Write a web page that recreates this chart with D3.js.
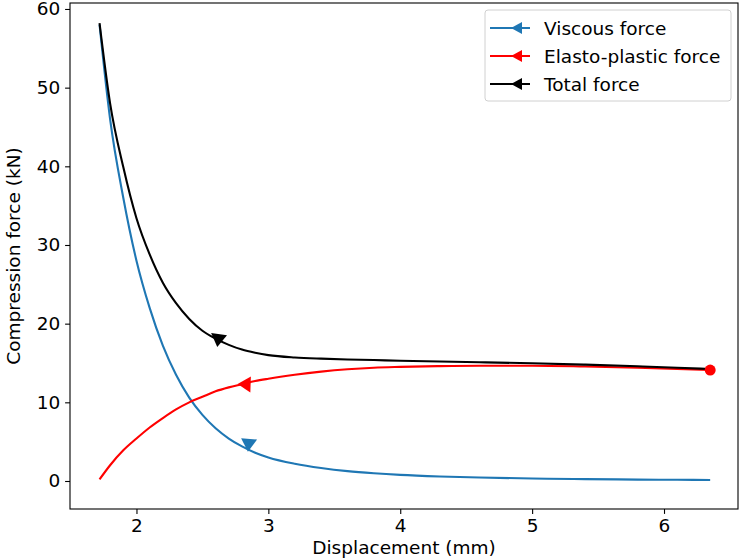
<!DOCTYPE html>
<html><head><meta charset="utf-8">
<script src="https://cdn.jsdelivr.net/npm/d3@7"></script>
<style>body{margin:0;background:#fff}svg{display:block;font-family:"DejaVu Sans",sans-serif}</style>
</head><body><svg id="c" width="742" height="559"></svg>
<script>
const displacement = [1.72,1.8,1.9,2.0,2.1,2.2,2.3,2.4,2.5,2.6,2.7,2.8,2.9,3.0,3.2,3.4,3.6,3.8,4.0,4.3,4.6,5.0,5.4,5.8,6.1,6.35];
const viscous = [58,46,36,28,22,17.2,13.5,10.6,8.4,6.7,5.4,4.4,3.6,3.0,2.2,1.65,1.25,0.98,0.78,0.58,0.44,0.32,0.24,0.18,0.15,0.13];
const elastic = [0.2,2.0,3.9,5.4,6.8,8.0,9.1,10.0,10.7,11.4,11.9,12.3,12.7,13.0,13.5,13.9,14.2,14.4,14.5,14.6,14.65,14.65,14.55,14.4,14.25,14.1];
const total = [58.2,48.0,39.9,33.4,28.8,25.2,22.6,20.6,19.1,18.1,17.3,16.7,16.3,16.0,15.7,15.55,15.45,15.38,15.28,15.18,15.09,14.97,14.79,14.58,14.4,14.23];
const seriesNames = ["Viscous force","Elasto-plastic force","Total force"];
const seriesColors = ["#1f77b4","#ff0000","#000000"];
// arrow heads: [x, y, direction deg (screen)]
const arrows = [[2.85,4.6,95],[2.82,12.3,182],[2.62,17.9,98]];
const xTicks = [2,3,4,5,6];
const yTicks = [0,10,20,30,40,50,60];

const FS = 18.5;
const svg = d3.select("#c");
const L=70,R=738,T=3,B=509;
const x = d3.scaleLinear().domain([1.496,6.561]).range([L,R]);
const y = d3.scaleLinear().domain([-3.56,60.76]).range([B,T]);

const g = svg.append("g");
const line = d3.line().x(d=>x(d[0])).y(d=>y(d[1])).curve(d3.curveMonotoneX);
const data = [viscous, elastic, total];
data.forEach((s,i)=>{
  g.append("path").datum(displacement.map((d,j)=>[d,s[j]]))
   .attr("d",line).attr("fill","none").attr("stroke",seriesColors[i]).attr("stroke-width",2.1);
});
arrows.forEach((a,i)=>{
  g.append("path").attr("d","M-7,0 L6,-8 L6,8 Z")
   .attr("transform",`translate(${x(a[0])},${y(a[1])}) rotate(${a[2]-180})`)
   .attr("fill",seriesColors[i]);
});
g.append("circle").attr("cx",x(displacement[displacement.length-1])).attr("cy",y(elastic[elastic.length-1]))
 .attr("r",5.5).attr("fill","#ff0000");

const xa = svg.append("g").attr("transform",`translate(0,${B})`).call(d3.axisBottom(x).tickValues(xTicks).tickFormat(d3.format("d")).tickSize(4.9).tickPadding(4.9));
const ya = svg.append("g").attr("transform",`translate(${L},0)`).call(d3.axisLeft(y).tickValues(yTicks).tickFormat(d3.format("d")).tickSize(4.9).tickPadding(4.9));
[xa,ya].forEach(a=>{a.select(".domain").remove();a.selectAll("text").attr("font-size",FS).attr("fill","#000").attr("font-family","DejaVu Sans");a.selectAll("line").attr("stroke","#000").attr("stroke-width",1.1);});
svg.append("rect").attr("x",L).attr("y",T).attr("width",R-L).attr("height",B-T).attr("fill","none").attr("stroke","#000").attr("stroke-width",1.1);

svg.append("text").attr("x",(L+R)/2).attr("y",554).attr("text-anchor","middle").attr("font-size",FS).text("Displacement (mm)");
svg.append("text").attr("transform",`translate(20,${(T+B)/2}) rotate(-90)`).attr("text-anchor","middle").attr("font-size",FS).text("Compression force (kN)");

const lg = svg.append("g");
lg.append("rect").attr("x",485).attr("y",10).attr("width",246).attr("height",91).attr("rx",3).attr("fill","#fff").attr("fill-opacity",0.8).attr("stroke","#d0d0d0").attr("stroke-width",1);
seriesNames.forEach((n,i)=>{
  const yy = 28 + i*28;
  lg.append("line").attr("x1",490).attr("x2",530).attr("y1",yy).attr("y2",yy).attr("stroke",seriesColors[i]).attr("stroke-width",2.1);
  lg.append("path").attr("d",`M${511},${yy} L${522},${yy-6} L${522},${yy+6} Z`).attr("fill",seriesColors[i]);
  lg.append("text").attr("x",544).attr("y",yy+6.5).attr("font-size",FS).text(n);
});
</script></body></html>
